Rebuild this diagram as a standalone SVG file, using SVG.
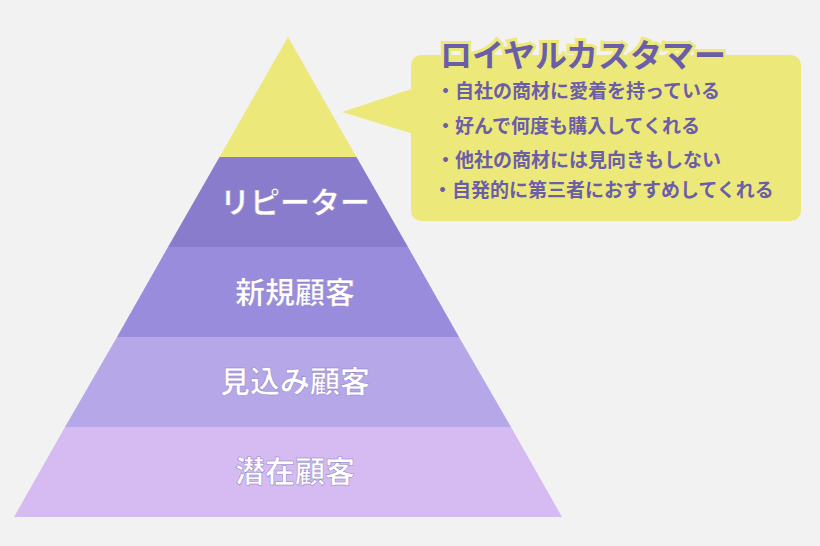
<svg xmlns="http://www.w3.org/2000/svg" width="820" height="546" viewBox="0 0 820 546">
<style>
.lbl{font-family:"Noto Sans CJK JP",sans-serif;font-weight:700;font-size:30px;fill:#fff;text-anchor:middle;stroke:#8a7cc0;stroke-width:0.5}
.it{font-family:"Noto Sans CJK JP",sans-serif;font-weight:700;font-size:19px;fill:#6b5ea8}
</style>
<rect width="820" height="546" fill="#f2f2f2"/>
<g id="top"><polygon points="288,37 356.5,157 219.5,157" fill="#ede87a"/></g>
<g id="repeater"><polygon points="219.5,157 356.5,157 408,247 168,247" fill="#8a7ccc"/><text class="lbl" x="295" y="213">リピーター</text></g>
<g id="new"><polygon points="168,247 408,247 459,337 117,337" fill="#9a8cdd"/><text class="lbl" x="295" y="303">新規顧客</text></g>
<g id="prospect"><polygon points="117,337 459,337 511,427 65,427" fill="#b6a8e8"/><text class="lbl" x="295" y="392">見込み顧客</text></g>
<g id="latent"><polygon points="65,427 511,427 562,517 14,517" fill="#d5bbf2"/><text class="lbl" x="295" y="482">潜在顧客</text></g>
<g id="callout">
<polygon points="342,112 420,86 420,136" fill="#ede87a"/>
<rect x="411" y="55" width="390" height="166" rx="10" fill="#ede87a"/>
<text x="440" y="67" font-family="Noto Sans CJK JP,sans-serif" font-weight="700" font-size="32" fill="#6b5ea8" stroke="#ede87a" stroke-width="6" paint-order="stroke">ロイヤルカスタマー</text>
<text class="it" x="436" y="98">・自社の商材に愛着を持っている</text>
<text class="it" x="436" y="133">・好んで何度も購入してくれる</text>
<text class="it" x="436" y="167">・他社の商材には見向きもしない</text>
<text class="it" x="433" y="197">・自発的に第三者におすすめしてくれる</text>
</g>
<g id="connectors"/>
</svg>
